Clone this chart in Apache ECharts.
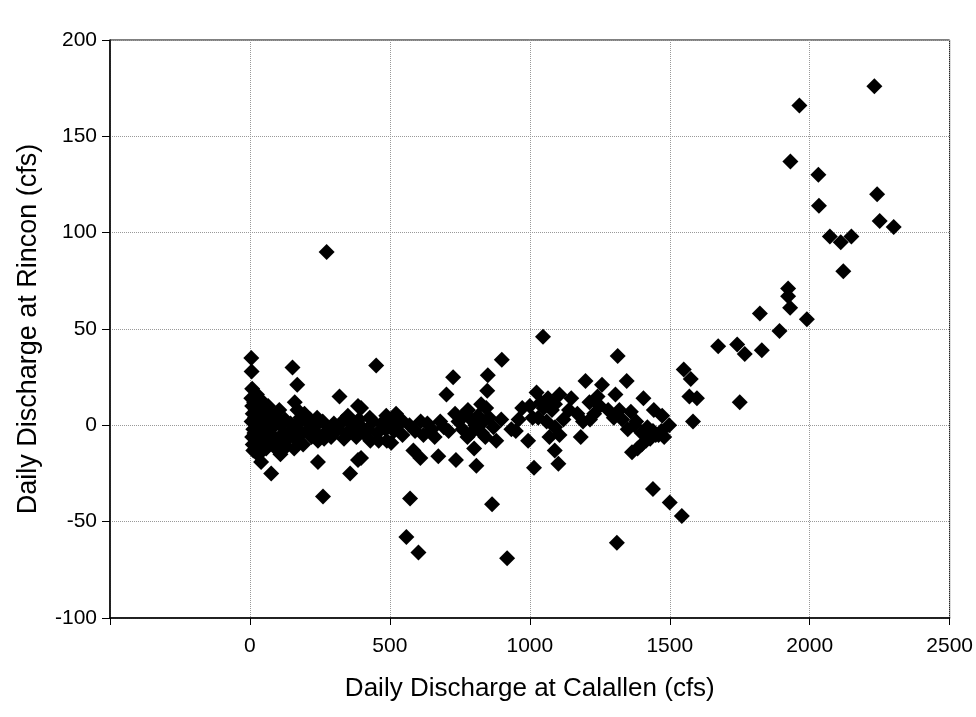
<!DOCTYPE html>
<html>
<head>
<meta charset="utf-8">
<script src="https://cdn.jsdelivr.net/npm/echarts@6/dist/echarts.min.js"></script>
<style>
html,body{margin:0;padding:0;background:#fff;}
#chart{width:976px;height:717px;}
</style>
</head>
<body>
<div id="chart"></div>
<script>
// [Calallen cfs, Rincon cfs] pairs
var lowFlowPoints = [
  [5,35],[6,28],[8,19],[152,30],[169,21],[320,15],[386,10],[243,-19],[76,-25],[40,-19],
  [109,-15],[358,-25],[261,-37],[243,-8],[336,-7],[386,-18],[274,90],
  [5,14],[8,10],[10,6],[6,2],[12,-2],[8,-6],[10,-10],[12,-13],[15,12],[20,8],[18,4],[22,0],
  [16,-4],[25,-8],[20,-12],[28,-15],[30,10],[35,6],[32,2],[38,-2],[34,-6],[40,-10],[45,-13],
  [50,8],[55,4],[48,0],[60,-4],[52,-8],[58,-12],[25,16],[40,13],[65,10],
  [70,6],[80,2],[75,-2],[85,-6],[90,-10],[100,-13],[95,4],[110,0],[120,-4],[115,-8],[130,-11],
  [140,-6],[125,3],[145,1],[150,-2],[105,8],
  [160,12],[170,8],[180,4],[165,0],[185,-4],[175,-8],[190,-10],[195,6],[200,2],[205,-3],[155,-6],[158,-12],
  [215,3],[230,-1],[245,-5],[260,2],[275,-3],[290,-6],[300,1],[220,-6],[265,-7],[240,4],
  [315,-2],[330,2],[345,-4],[360,1],[375,-3],[390,3],[400,-1],[350,5],[380,-6]
];
var midFlowPoints = [
  [451,31],[726,25],[702,16],[850,26],[848,18],[397,9],[570,0],[634,1],[693,-1],[733,6],[779,8],
  [826,11],[584,-13],[609,-17],[673,-16],[736,-18],[809,-21],[801,-12],[777,-6],[829,-4],[572,-38],
  [487,5],[522,6],[428,4],[406,-4],[397,-17],[489,-8],[559,-58],[602,-66],
  [420,-2],[440,2],[455,-4],[470,1],[485,-2],[500,2],[515,-3],[530,0],[545,-5],[460,-8],[505,-9],
  [540,3],[430,-8],[590,-3],[610,2],[650,-2],[660,-6],[680,2],[620,-5],[710,-3],
  [745,2],[760,-2],[790,3],[805,0],[815,5],[835,2],[760,5],[790,-4],[855,4],[870,-1],[880,-8],
  [1047,46],[900,34],[844,9],[898,3],[973,9],[934,-2],[994,-8],[1024,17],[1049,9],[1079,8],
  [1106,16],[1148,14],[1199,23],[1258,21],[1213,12],[1306,16],[1215,3],[1182,-6],[1070,-6],
  [1106,-5],[1089,-13],[1102,-20],[1015,-22],[841,-6],[865,-41],[919,-69],
  [950,-3],[960,3],[1000,10],[1010,4],[1030,4],[1040,12],[1065,14],[1090,11],[1060,2],[1090,-1],
  [1120,3],[1140,8],[1170,6],[1190,2],[1230,6],[1250,10],[1280,8],[1300,4],[1330,3],[1350,-2],
  [1380,2],[1400,-4],[1420,-1],[1440,-3],[1460,-5],[1480,-6],
  [1346,23],[1406,14],[1443,8],[1473,5],[1361,7],[1374,0],[1320,8],[1242,15],[1314,36],
  [1365,-14],[1385,-12],[1400,-10],[1415,-8],[1430,-7],[1450,-5],[1470,-3],[1498,0],
  [1440,-33],[1500,-40],[1543,-47],[1311,-61]
];
var highFlowPoints = [
  [2231,176],[1963,166],[1931,137],[2031,130],[2241,120],[2033,114],[2072,98],[2111,95],[2149,98],
  [2250,106],[2300,103],[2120,80],[1923,71],[1923,67],[1930,61],[1822,58],[1990,55],[1892,49],
  [1673,41],[1741,42],[1768,37],[1829,39],[1550,29],[1575,24],[1570,15],[1597,14],[1750,12],[1583,2]
];
var xTicks = [0, 500, 1000, 1500, 2000, 2500];
var yTicks = [-100, -50, 0, 50, 100, 150, 200];
var xTitle = 'Daily Discharge at Calallen (cfs)';
var yTitle = 'Daily Discharge at Rincon (cfs)';

var allPoints = lowFlowPoints.concat(midFlowPoints, highFlowPoints);
var chart = echarts.init(document.getElementById('chart'));
var font = 'Liberation Sans, Arial, sans-serif';
chart.setOption({
  backgroundColor: '#fff',
  animation: false,
  grid: {left: 110, top: 40, width: 848, height: 578, show: true, borderColor: '#000', borderWidth: 1, backgroundColor: 'transparent'},
  xAxis: {
    type: 'value', min: -500, max: 2500, interval: 500,
    name: xTitle, nameLocation: 'middle', nameGap: 58,
    nameTextStyle: {fontFamily: font, fontSize: 26, color: '#000'},
    axisLine: {show: true, onZero: false, lineStyle: {color: '#000', width: 1.5}},
    axisTick: {show: true, inside: false, length: 7, lineStyle: {color: '#000'}},
    axisLabel: {fontFamily: font, fontSize: 21, color: '#000', margin: 18,
      formatter: function (v) { return xTicks.indexOf(v) >= 0 ? String(v) : ''; }},
    splitLine: {show: true, lineStyle: {color: '#999', type: 'dotted', width: 1}}
  },
  yAxis: {
    type: 'value', min: -100, max: 200, interval: 50,
    name: yTitle, nameLocation: 'middle', nameGap: 68, nameRotate: 90,
    nameTextStyle: {fontFamily: font, fontSize: 27, color: '#000'},
    axisLine: {show: true, onZero: false, lineStyle: {color: '#000', width: 1.5}},
    axisTick: {show: true, inside: false, length: 8, lineStyle: {color: '#000'}},
    axisLabel: {fontFamily: font, fontSize: 21, color: '#000', margin: 13,
      formatter: function (v) { return yTicks.indexOf(v) >= 0 ? String(v) : ''; }},
    splitLine: {show: true, lineStyle: {color: '#999', type: 'dotted', width: 1}}
  },
  series: [{
    type: 'scatter',
    symbol: 'diamond',
    symbolSize: 16,
    itemStyle: {color: '#000', opacity: 1},
    data: allPoints
  }]
});
</script>
</body>
</html>
